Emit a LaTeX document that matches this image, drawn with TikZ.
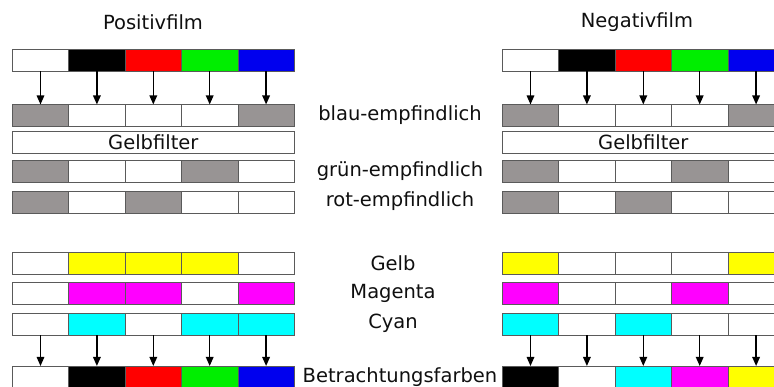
\documentclass[tikz,border=0pt]{standalone}
\usepackage{fontspec}
\setmainfont{DejaVu Sans}
\usetikzlibrary{arrows.meta}
\definecolor{filmgray}{RGB}{152,148,148}
\definecolor{filmred}{RGB}{255,0,0}
\definecolor{filmgreen}{RGB}{0,238,0}
\definecolor{filmblue}{RGB}{0,0,238}
\definecolor{filmyellow}{RGB}{255,255,0}
\definecolor{filmmagenta}{RGB}{255,0,255}
\definecolor{filmcyan}{RGB}{0,255,255}
\definecolor{filmline}{RGB}{90,90,90}
\definecolor{filmtext}{RGB}{15,15,15}
\begin{document}
\begin{tikzpicture}[x=1pt,y=-1pt,
	cell/.style={draw=filmline,line width=0.8pt,minimum width=56.4pt,minimum height=22pt,
		anchor=north west,inner sep=0pt,outer sep=0pt},
	lbl/.style={font=\fontsize{19.5}{21}\selectfont,text=filmtext},
	arr/.style={-{Triangle[length=9pt,width=7.5pt]},line width=1.5pt}]
	\useasboundingbox (0,0) rectangle (774,387);
	\clip (0,0) rectangle (774,387);
	%film layers, left = positive, right = negative
	\foreach \r/\y/\cl/\cr in {
		top/49.5/{white,black,filmred,filmgreen,filmblue}/{white,black,filmred,filmgreen,filmblue},
		blau/104.5/{filmgray,white,white,white,filmgray}/{filmgray,white,white,white,filmgray},
		gruen/160.5/{filmgray,white,white,filmgray,white}/{filmgray,white,white,filmgray,white},
		rot/191.5/{filmgray,white,filmgray,white,white}/{filmgray,white,filmgray,white,white},
		gelb/252/{white,filmyellow,filmyellow,filmyellow,white}/{filmyellow,white,white,white,filmyellow},
		magenta/282.5/{white,filmmagenta,filmmagenta,white,filmmagenta}/{filmmagenta,white,white,filmmagenta,white},
		cyan/313.5/{white,filmcyan,white,filmcyan,filmcyan}/{filmcyan,white,filmcyan,white,white},
		bild/366/{white,black,filmred,filmgreen,filmblue}/{black,white,filmcyan,filmmagenta,filmyellow}}{
		\foreach \c [count=\i] in \cl
			\node[cell,fill=\c] (\r L\i) at ({12.3+56.4*(\i-1)},\y) {};
		\foreach \c [count=\i] in \cr
			\node[cell,fill=\c] (\r R\i) at ({502.3+56.4*(\i-1)},\y) {};
	}
	\node[cell,minimum width=282pt,lbl] (filterL) at (12.3,131) {Gelbfilter};
	\node[cell,minimum width=282pt,lbl] (filterR) at (502.3,131) {Gelbfilter};
	%arrows
	\foreach \i in {1,...,5}{
		\draw[arr] (topL\i) -- (blauL\i);
		\draw[arr] (topR\i) -- (blauR\i);
		\draw[arr] (cyanL\i) -- (bildL\i);
		\draw[arr] (cyanR\i) -- (bildR\i);
	}
	%LABELS
	\node[lbl] (pos) at (153,22) {Positivfilm};
	\node[lbl] (neg) at (637,22) {Negativfilm};
	\node[lbl] (lblblau) at (400,115) {blau-empfindlich};
	\node[lbl] (lblgruen) at (400,171) {grün-empfindlich};
	\node[lbl] (lblrot) at (400,201) {rot-empfindlich};
	\node[lbl] (lblgelb) at (393,263) {Gelb};
	\node[lbl] (lblmagenta) at (393,293) {Magenta};
	\node[lbl] (lblcyan) at (393,323) {Cyan};
	\node[lbl] (lblbild) at (400,377) {Betrachtungsfarben};
\end{tikzpicture}
\end{document}
